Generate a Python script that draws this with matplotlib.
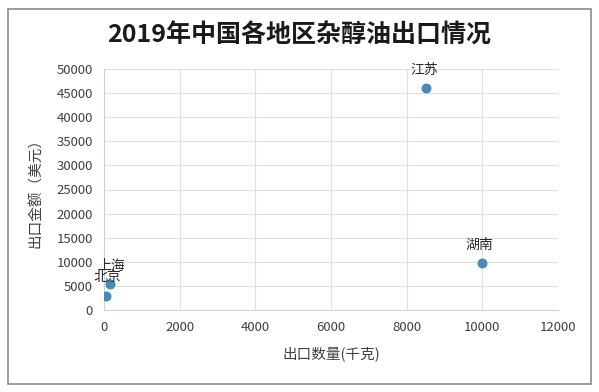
import matplotlib.pyplot as plt
from matplotlib.patches import Rectangle

plt.rcParams['font.family'] = ['Noto Sans CJK SC', 'DejaVu Sans']

regions = ['江苏', '湖南', '上海', '北京']
qty_kg = [8500, 10000, 160, 50]          # 出口数量(千克)
value_usd = [46000, 9700, 5300, 3000]    # 出口金额(美元)
label_offsets = [(-1, 8), (-2, 8), (1, 8), (1, 8)]

x_ticks = [0, 2000, 4000, 6000, 8000, 10000, 12000]
y_ticks = [0, 5000, 10000, 15000, 20000, 25000, 30000, 35000, 40000, 45000, 50000]

fig = plt.figure(figsize=(5.99, 3.92), dpi=100)
ax = fig.add_axes([104 / 599, 1 - 310 / 392, (558 - 104) / 599, (310 - 69) / 392])

# grey frame round the whole chart
fig.patches.append(Rectangle((8 / 599, 8 / 392), 583 / 599, 375 / 392, transform=fig.transFigure,
                             fill=False, edgecolor='#8c8c8c', linewidth=1.2))

ax.scatter(qty_kg, value_usd, s=38, color='#4a89b8', zorder=3)
for name, x, y, off in zip(regions, qty_kg, value_usd, label_offsets):
    ax.annotate(name, (x, y), xytext=off, textcoords='offset points', ha='center', va='bottom',
                fontsize=10, fontweight='medium', color='#2a2a2a', zorder=4)

ax.set_xlim(0, 12000)
ax.set_ylim(0, 50000)
ax.set_xticks(x_ticks)
ax.set_yticks(y_ticks)
ax.grid(True, color='#e0e0e0', linewidth=0.8)
ax.set_axisbelow(True)
ax.tick_params(length=0, labelsize=9.5, colors='#404040', pad=8)
for side in ['top', 'right']:
    ax.spines[side].set_visible(False)
for side in ['left', 'bottom']:
    ax.spines[side].set_color('#c5d3df')

ax.set_xlabel('出口数量(千克)', fontsize=10.5, color='#404040', labelpad=9)
ax.set_ylabel('出口金额（美元）', fontsize=10.5, color='#404040', labelpad=10)
fig.text(0.5, 1 - 36 / 392, '2019年中国各地区杂醇油出口情况', ha='center', va='center',
         fontsize=18, fontweight='bold', color='#1a1a1a')

fig.savefig('out.png', dpi=100)
